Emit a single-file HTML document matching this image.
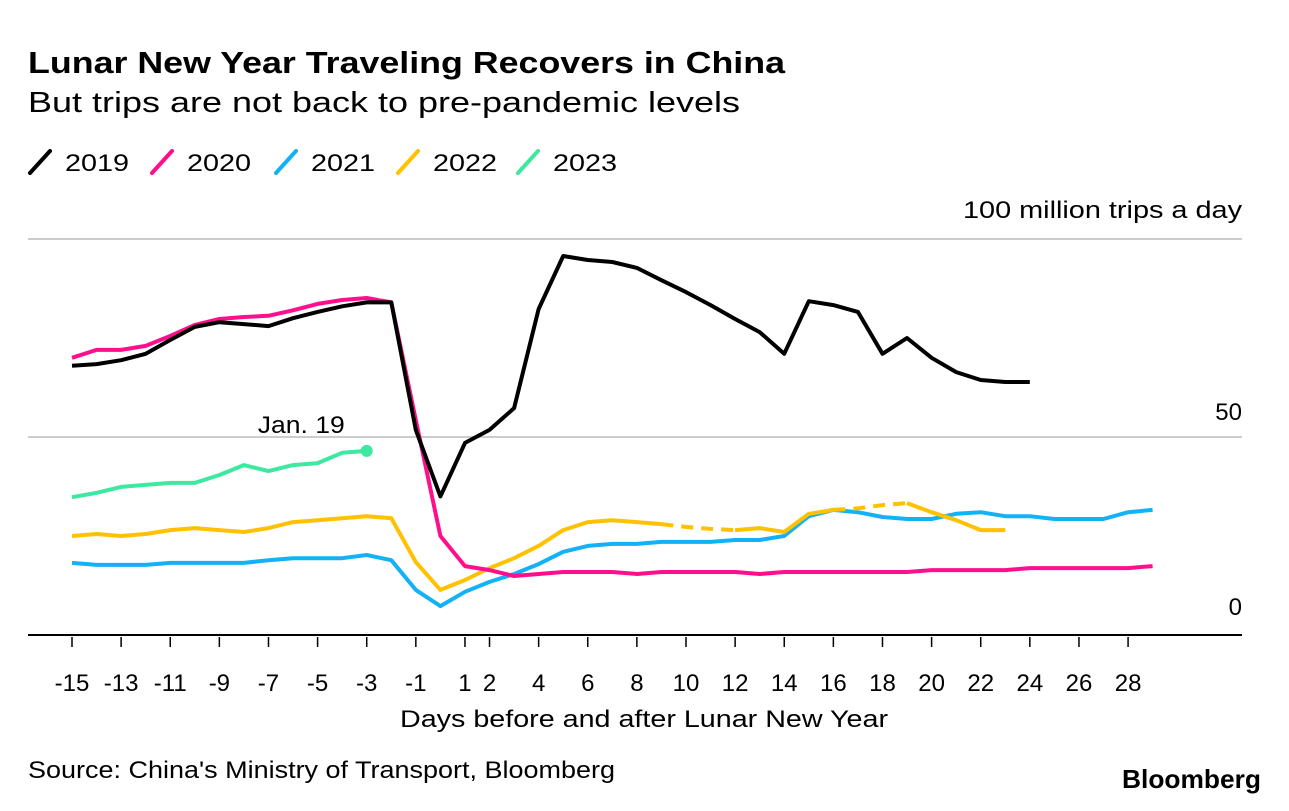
<!DOCTYPE html>
<html><head><meta charset="utf-8"><style>
body{margin:0;background:#fff;font-family:"Liberation Sans",sans-serif;}
svg text{font-family:"Liberation Sans",sans-serif;}
</style></head><body>
<svg id="c" width="1289" height="806" xmlns="http://www.w3.org/2000/svg">
<text x="28" y="73" font-size="31" font-weight="bold" fill="#000" textLength="757" lengthAdjust="spacingAndGlyphs">Lunar New Year Traveling Recovers in China</text>
<text x="28" y="112" font-size="29" fill="#000" textLength="712" lengthAdjust="spacingAndGlyphs">But trips are not back to pre-pandemic levels</text>
<g id="legend"></g>
<text x="963" y="218" font-size="24" fill="#000" textLength="279" lengthAdjust="spacingAndGlyphs">100 million trips a day</text>
<g id="grid"></g><g id="xt"></g><g id="lines"></g>
<text x="400" y="727" font-size="24" fill="#000" textLength="488" lengthAdjust="spacingAndGlyphs">Days before and after Lunar New Year</text>
<text x="28" y="778" font-size="24" fill="#000" textLength="587" lengthAdjust="spacingAndGlyphs">Source: China's Ministry of Transport, Bloomberg</text>
<text x="1122" y="788" font-size="26" font-weight="bold" fill="#000" textLength="139" lengthAdjust="spacingAndGlyphs">Bloomberg</text>
</svg>
<script>
const days=[];for(let d=-15;d<=29;d++)days.push(d);
const xTickLabels=[-15,-13,-11,-9,-7,-5,-3,-1,1,2,4,6,8,10,12,14,16,18,20,22,24,26,28];
const yTicks=[0,50,100];
const s2019=[68,68.4,69.4,71,74.5,77.8,79,78.5,78,80,81.6,83,84,84,51.8,35,48.5,51.8,57.3,82.3,95.7,94.7,94.2,92.7,89.6,86.6,83.3,79.8,76.5,71,84.3,83.3,81.6,71,75,70,66.4,64.4,63.9,63.9];
const s2020=[70,72,72,73,75.5,78.3,79.8,80.3,80.6,82,83.6,84.6,85.1,84,54.3,25,17.4,16.4,14.9,15.4,15.9,15.9,15.9,15.4,15.9,15.9,15.9,15.9,15.4,15.9,15.9,15.9,15.9,15.9,15.9,16.4,16.4,16.4,16.4,16.9,16.9,16.9,16.9,16.9,17.4];
const s2021=[18.2,17.7,17.7,17.7,18.2,18.2,18.2,18.2,18.9,19.4,19.4,19.4,20.2,18.9,11.4,7.3,10.9,13.4,15.4,17.9,21,22.5,23,23,23.5,23.5,23.5,24,24,25,30,31.6,31,29.8,29.3,29.3,30.6,31,30,30,29.3,29.3,29.3,31,31.6];
const s2022=[25,25.5,25,25.5,26.5,27,26.5,26,27,28.5,29,29.5,30,29.5,18.4,11.4,13.9,16.9,19.4,22.5,26.5,28.5,29,28.5,28,27.3,26.8,26.5,27,26,30.6,31.6,32,32.8,33.3,31,29,26.5,26.5];
const dashed2022=[[9,12],[16,19]];
const s2023=[34.8,35.9,37.4,37.9,38.4,38.4,40.4,42.9,41.4,42.9,43.4,46,46.5];
const seriesNames=["2019","2020","2021","2022","2023"];
const colors=["#000000","#ff0f8c","#13b1f5","#ffc100","#3de8a0"];
const X=d=>72+(d+15)*24.56, Y=v=>635-v*3.96;
const NS="http://www.w3.org/2000/svg";
function mk(t,a,p){const e=document.createElementNS(NS,t);for(const k in a)e.setAttribute(k,a[k]);(p||document.getElementById('c')).appendChild(e);return e;}
const grid=document.getElementById('grid');
yTicks.forEach(v=>{
  const l=mk('line',{x1:28,x2:1242,y1:Y(v),y2:Y(v),stroke:v===0?'#000':'#ccc','stroke-width':2},grid);
  
  
  if(v===50){const t=mk('text',{x:1242,y:Y(v)-17,'font-size':24,'text-anchor':'end'},grid);t.textContent=v;
  
  }
});
const z=mk('text',{x:1242,y:615,'font-size':24,'text-anchor':'end'},grid);z.textContent='0';


const xt=document.getElementById('xt');
xTickLabels.forEach(d=>{
  const l=mk('line',{x1:X(d),x2:X(d),y1:637,y2:647,stroke:'#000','stroke-width':1.5},xt);
  
  
  const t=mk('text',{x:X(d),y:691,'font-size':24,'text-anchor':'middle'},xt);t.textContent=d;
  
  
});
const lines=document.getElementById('lines');
function pts(arr,from,to){const p=[];for(let i=from;i<=to&&i<arr.length;i++)p.push(X(days[i]).toFixed(1)+','+Y(arr[i]).toFixed(1));return p.join(' ');}
function drawLine(arr,col,name){
  const e=mk('polyline',{points:pts(arr,0,arr.length-1),fill:'none',stroke:col,'stroke-width':4,'stroke-linejoin':'round'},lines);
  
  
  return e;
}
drawLine(s2021,colors[2],'line-2021');
(function(){
  let cur=0;const segs=[];
  dashed2022.forEach(([a,b])=>{segs.push([cur,a+15,false]);segs.push([a+15,b+15,true]);cur=b+15;});
  segs.push([cur,s2022.length-1,false]);
  segs.forEach(([a,b,dsh])=>{
    const e=mk('polyline',{points:pts(s2022,a,b),fill:'none',stroke:colors[3],'stroke-width':4,'stroke-linejoin':'round','stroke-dasharray':dsh?'12,8':'none'},lines);
    
    
  });
})();
drawLine(s2020,colors[1],'line-2020');
drawLine(s2019,colors[0],'line-2019');
drawLine(s2023,colors[4],'line-2023');
const li=s2023.length-1;
const dot=mk('circle',{cx:X(days[li]),cy:Y(s2023[li]),r:6,fill:colors[4]},lines);


const ann=mk('text',{x:X(days[li])-22,y:Y(s2023[li])-18,'font-size':24,'text-anchor':'end',textLength:87,lengthAdjust:'spacingAndGlyphs'},lines);ann.textContent='Jan. 19';


const lg=document.getElementById('legend');
const lx=[30,152,276,398,518];
seriesNames.forEach((n,i)=>{
  const g=mk('g',{},lg);
  
  
  mk('line',{x1:lx[i],y1:173,x2:lx[i]+20,y2:151,stroke:colors[i],'stroke-width':4,'stroke-linecap':'round'},g);
  const t=mk('text',{x:lx[i]+35,y:171,'font-size':24,textLength:64,lengthAdjust:'spacingAndGlyphs'},g);t.textContent=n;
});
</script>
</body></html>
